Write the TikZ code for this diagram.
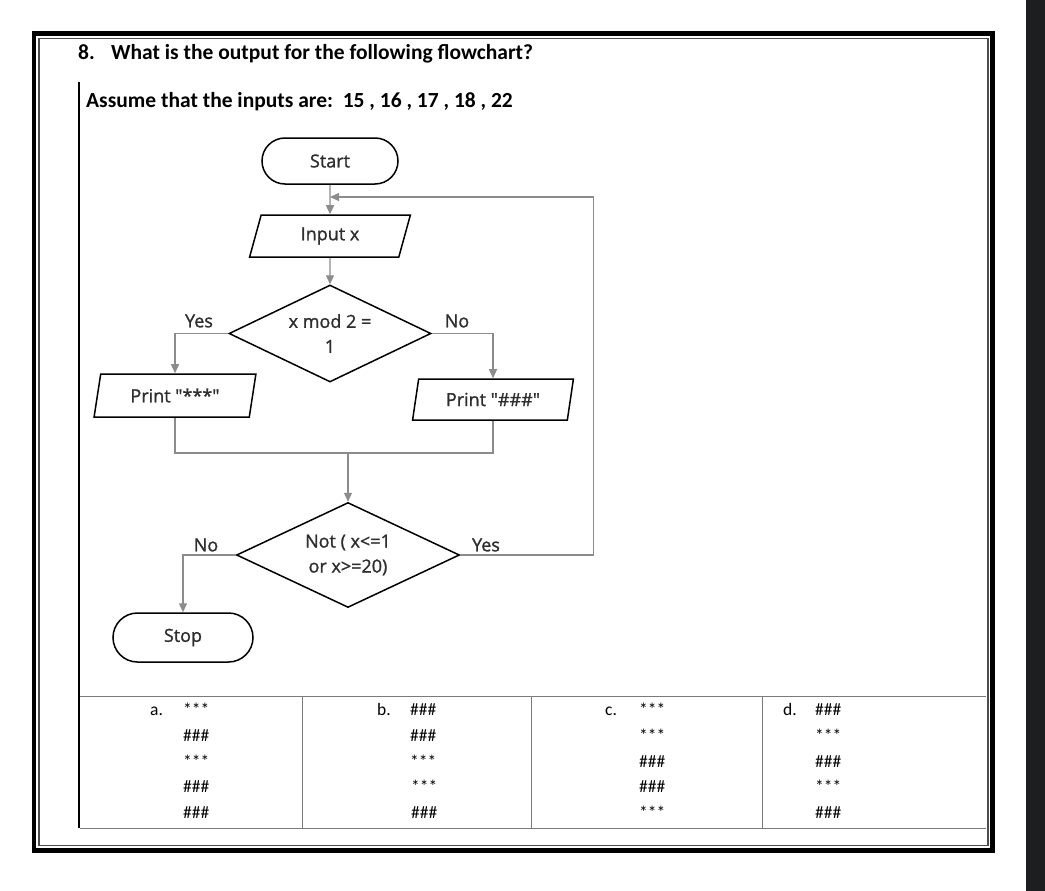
\documentclass[tikz,border=0pt]{standalone}
\usepackage{fontspec}
\setmainfont{Carlito}
\newfontfamily\fcfont[FakeBold=1.2]{Open Sans}
\usetikzlibrary{shapes.geometric,shapes.misc,arrows.meta}
\definecolor{conngray}{HTML}{8C8C8C}
\definecolor{tblgray}{HTML}{7A7A7A}
\definecolor{fctext}{HTML}{2E2E2E}
\definecolor{darkstrip}{HTML}{1D1E20}
\begin{document}
\begin{tikzpicture}[x=1pt,y=-1pt,
  fcfont/.style={font=\fcfont\fontsize{18}{25}\selectfont, text=fctext},
  term/.style={rounded rectangle, draw=black, line width=1.5pt, fcfont, inner sep=0pt},
  io/.style={trapezium, trapezium left angle=74, trapezium right angle=106,
             trapezium stretches=true, draw=black, line width=1.5pt, fcfont, inner sep=0pt},
  dec/.style={diamond, draw=black, line width=1.5pt, fcfont, inner sep=0pt, align=center, shape aspect=2.1},
  conn/.style={draw=conngray, line width=1.3pt, -{Triangle[length=9pt,width=8pt]}},
  plain/.style={draw=conngray, line width=1.3pt},
  lbl/.style={fcfont, inner sep=0pt},
  hdr/.style={font=\fontsize{21.5}{26}\selectfont\bfseries, anchor=base west, inner sep=0pt},
  opt/.style={font=\fontsize{17.5}{21}\selectfont, anchor=base west, inner sep=0pt},
  tline/.style={draw=tblgray, line width=1pt}
]
% canvas
\useasboundingbox (0,0) rectangle (1045,891);
\fill[white] (0,0) rectangle (1045,891);
\fill[darkstrip] (1026,0) rectangle (1045,891);
% page frame
\draw[black, line width=4.5pt] (34.2,33.5) rectangle (992.7,850.7);
\draw[black!70, line width=1.3pt] (39,38.5) rectangle (988,845.5);
% left rule of the question body
\draw[black, line width=1.6pt] (79,82) -- (79,828);

% header
\node[hdr] (qnum) at (78,60) {8.};
\node[hdr] (qtext) at (111,60) {What is the output for the following flowchart?};
\node[hdr] (assume) at (86,107) {Assume that the inputs are:\ \ 15 , 16 , 17 , 18 , 22};

% flowchart nodes
\node[term, minimum width=136pt, minimum height=46pt] (start) at (330,161) {Start};
\node[io, minimum width=161pt, minimum height=42pt] (input) at (330,236) {Input x};
\node[dec, minimum width=202pt, minimum height=97pt] (dec1) at (330,333.5) {x mod 2 =\\1};
\node[io, minimum width=162pt, minimum height=43pt] (print1) at (175,395.5) {Print "***"};
\node[io, minimum width=161pt, minimum height=41pt] (print2) at (493,399.5) {Print "\#\#\#"};
\node[dec, minimum width=223pt, minimum height=105pt] (dec2) at (348,555) {Not ( x<=1\\or x>=20)};
\node[term, minimum width=140pt, minimum height=49pt] (stop) at (183,637.5) {Stop};

% branch labels
\node[lbl] (yes1) at (199,321) {Yes};
\node[lbl] (no1) at (457,321) {No};
\node[lbl] (no2) at (206,545) {No};
\node[lbl] (yes2) at (486,545) {Yes};

% helper coordinates
\coordinate (loopin) at (330,197);
\coordinate (merge) at (348,453);

% connectors
\draw[conn] (start.south) -- (input.north);
\draw[conn] (input.south) -- (dec1.north);
\draw[conn] (dec1.west) -| (print1.north);
\draw[conn] (dec1.east) -| (print2.north);
\draw[plain] (print1.south) |- (merge);
\draw[plain] (print2.south) |- (merge);
\draw[conn] (merge) -- (dec2.north);
\draw[conn] (dec2.west) -| (stop.north);
\draw[conn] (dec2.east) -- ++(133,0) |- (loopin);

% answer table
\draw[tline] (80,696) -- (986,696);
\draw[tline] (80,828) -- (986,828);
\draw[tline] (302,696) -- (302,828);
\draw[tline] (531,696) -- (531,828);
\draw[tline] (762,696) -- (762,828);

% option a
\node[opt] (la) at (150,715) {a.};
\node[opt] (a1) at (183,715) {***};
\node[opt] (a2) at (183,741) {\#\#\#};
\node[opt] (a3) at (183,767) {***};
\node[opt] (a4) at (183,792) {\#\#\#};
\node[opt] (a5) at (183,818) {\#\#\#};
% option b
\node[opt] (lb) at (377,715) {b.};
\node[opt] (b1) at (410,715) {\#\#\#};
\node[opt] (b2) at (410,741) {\#\#\#};
\node[opt] (b3) at (410,767) {***};
\node[opt] (b4) at (411,792) {***};
\node[opt] (b5) at (411,818) {\#\#\#};
% option c
\node[opt] (lc) at (605,715) {c.};
\node[opt] (c1) at (639,715) {***};
\node[opt] (c2) at (639,741) {***};
\node[opt] (c3) at (639,767) {\#\#\#};
\node[opt] (c4) at (639,792) {\#\#\#};
\node[opt] (c5) at (639,818) {***};
% option d
\node[opt] (ld) at (783,715) {d.};
\node[opt] (d1) at (815,715) {\#\#\#};
\node[opt] (d2) at (815,741) {***};
\node[opt] (d3) at (815,767) {\#\#\#};
\node[opt] (d4) at (815,792) {***};
\node[opt] (d5) at (815,818) {\#\#\#};
\end{tikzpicture}
\end{document}
